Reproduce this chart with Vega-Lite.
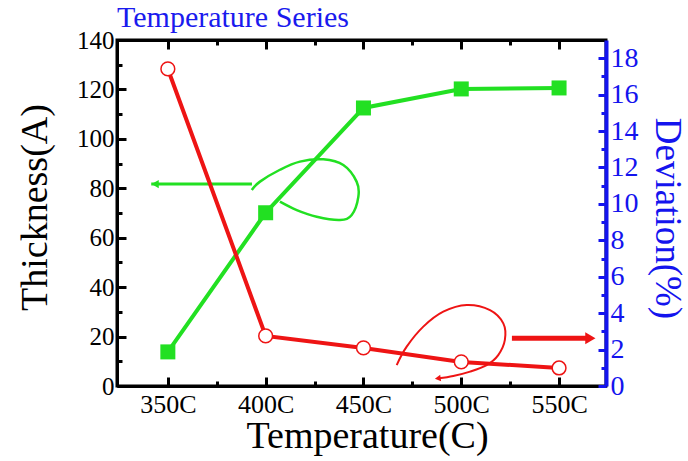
{
  "$schema": "https://vega.github.io/schema/vega-lite/v6.json",
  "width": 489,
  "height": 346,
  "autosize": {"type": "none"},
  "padding": {"left": 117, "top": 40, "right": 82, "bottom": 75},
  "background": "white",
  "title": {"text": "Temperature Series", "anchor": "start", "frame": "group", "color": "#1a1aee", "font": "Liberation Serif", "fontSize": 30, "fontWeight": "normal", "baseline": "bottom", "offset": 3, "dy": 38},
  "config": {
    "view": {"stroke": "black", "strokeWidth": 3},
    "title": {"font": "Liberation Serif"},
    "axis": {"grid": false, "labelFont": "Liberation Serif", "titleFont": "Liberation Serif", "titleFontWeight": "normal", "domainWidth": 3, "tickWidth": 3, "domainColor": "black", "tickColor": "black", "labelColor": "black", "titleColor": "black"}
  },
  "datasets": {
    "thick": [{"T": 350, "v": 13.8}, {"T": 400, "v": 70.1}, {"T": 450, "v": 112.5}, {"T": 500, "v": 120.2}, {"T": 550, "v": 120.6}],
    "dev": [{"T": 350, "v": 17.41}, {"T": 400, "v": 2.75}, {"T": 450, "v": 2.09}, {"T": 500, "v": 1.32}, {"T": 550, "v": 0.99}],
    "greenArrow": [{"T": 341.5, "v": 81.7}, {"T": 393.0, "v": 81.7}],
    "greenHead": [{"T": 343.5, "v": 81.7}],
    "greenLoop": [
      {"i": 0, "T": 392.9, "v": 79.3}, {"i": 1, "T": 397.1, "v": 82.7}, {"i": 2, "T": 407.3, "v": 87.5}, {"i": 3, "T": 417.5, "v": 90.8},
      {"i": 4, "T": 429.5, "v": 91.7}, {"i": 5, "T": 439.7, "v": 89.4}, {"i": 6, "T": 446.5, "v": 82.7}, {"i": 7, "T": 447.4, "v": 76.6},
      {"i": 8, "T": 444.0, "v": 69.2}, {"i": 9, "T": 438.0, "v": 67.2}, {"i": 10, "T": 426.1, "v": 68.5}, {"i": 11, "T": 415.9, "v": 71.2},
      {"i": 12, "T": 407.3, "v": 74.6}
    ],
    "redLoop": [
      {"i": 0, "T": 467.0, "v": 1.15}, {"i": 1, "T": 472.1, "v": 2.16}, {"i": 2, "T": 480.6, "v": 3.26}, {"i": 3, "T": 490.8, "v": 4.08},
      {"i": 4, "T": 502.8, "v": 4.45}, {"i": 5, "T": 514.7, "v": 4.17}, {"i": 6, "T": 521.5, "v": 3.44}, {"i": 7, "T": 522.3, "v": 2.53},
      {"i": 8, "T": 518.9, "v": 1.70}, {"i": 9, "T": 513.0, "v": 1.15}, {"i": 10, "T": 504.5, "v": 0.79}, {"i": 11, "T": 495.9, "v": 0.55},
      {"i": 12, "T": 488.5, "v": 0.42}
    ],
    "redArrow": [{"T": 525.9, "v": 2.62}, {"T": 564.0, "v": 2.62}],
    "redHead": [{"T": 566.0, "v": 2.62}],
    "redLoopHead": [{"T": 488.0, "v": 0.42}]
  },
  "resolve": {"scale": {"y": "independent"}},
  "layer": [
    {
      "encoding": {
        "x": {"field": "T", "type": "quantitative", "scale": {"domain": [324, 574], "nice": false, "zero": false},
          "axis": {"orient": "bottom", "values": [350, 375, 400, 425, 450, 475, 500, 525, 550],
            "labelExpr": "datum.value % 50 === 0 ? datum.value + 'C' : ''",
            "tickSize": {"condition": {"test": "datum.value % 50 === 0", "value": -9}, "value": -5},
            "labelFontSize": 26, "labelPadding": 14, "labelBaseline": "top",
            "title": "Temperature(C)", "titleFontSize": 38, "titleX": 250, "titleY": 61, "titleBaseline": "alphabetic", "titleAlign": "center"}},
        "y": {"field": "v", "type": "quantitative", "scale": {"domain": [0, 140], "nice": false},
          "axis": {"orient": "left", "values": [0, 10, 20, 30, 40, 50, 60, 70, 80, 90, 100, 110, 120, 130, 140],
            "labelExpr": "datum.value % 20 === 0 ? datum.label : ''",
            "tickSize": {"condition": {"test": "datum.value % 20 === 0", "value": -9}, "value": -5},
            "labelFontSize": 25, "labelPadding": 12,
            "title": "Thickness(A)", "titleFontSize": 38, "titleAngle": -90, "titleX": -82, "titleY": 167, "titleAlign": "center", "titleBaseline": "middle"}}
      },
      "layer": [
        {"data": {"name": "thick"}, "mark": {"type": "line", "color": "#22e022", "strokeWidth": 4}},
        {"data": {"name": "thick"}, "mark": {"type": "point", "shape": "square", "filled": true, "color": "#22e022", "size": 225, "opacity": 1}},
        {"data": {"name": "greenArrow"}, "mark": {"type": "line", "color": "#22e022", "strokeWidth": 3}},
        {"data": {"name": "greenHead"}, "mark": {"type": "point", "shape": "triangle-left", "filled": true, "color": "#22e022", "size": 70, "opacity": 1}},
        {"data": {"name": "greenLoop"}, "mark": {"type": "line", "color": "#22e022", "strokeWidth": 2.5, "interpolate": "cardinal"},
          "encoding": {"order": {"field": "i", "type": "quantitative"}}}
      ]
    },
    {
      "encoding": {
        "x": {"field": "T", "type": "quantitative", "scale": {"domain": [324, 574], "nice": false, "zero": false},
          "axis": {"orient": "top", "values": [350, 375, 400, 425, 450, 475, 500, 525, 550], "labels": false, "title": null,
            "tickSize": {"condition": {"test": "datum.value % 50 === 0", "value": -9}, "value": -5}}},
        "y": {"field": "v", "type": "quantitative", "scale": {"domain": [0, 19], "nice": false},
          "axis": {"orient": "right", "values": [0, 1, 2, 3, 4, 5, 6, 7, 8, 9, 10, 11, 12, 13, 14, 15, 16, 17, 18],
            "labelExpr": "datum.value % 2 === 0 ? datum.label : ''",
            "tickSize": {"condition": {"test": "datum.value % 2 === 0", "value": -8}, "value": -5},
            "domainColor": "#1414ee", "domainWidth": 4, "tickColor": "#1414ee", "labelColor": "#1414ee", "titleColor": "#1414ee",
            "labelFontSize": 28, "labelPadding": 12,
            "title": "Deviation(%)", "titleFontSize": 37, "titleAngle": 90, "titleX": 60, "titleY": 178, "titleAlign": "center", "titleBaseline": "middle"}}
      },
      "layer": [
        {"data": {"name": "dev"}, "mark": {"type": "line", "color": "#ee1414", "strokeWidth": 4}},
        {"data": {"name": "dev"}, "mark": {"type": "point", "shape": "circle", "filled": true, "fill": "white", "stroke": "#ee1414", "strokeWidth": 1.5, "size": 190, "opacity": 1}},
        {"data": {"name": "redLoop"}, "mark": {"type": "line", "color": "#ee1414", "strokeWidth": 2, "interpolate": "cardinal"},
          "encoding": {"order": {"field": "i", "type": "quantitative"}}},
        {"data": {"name": "redLoopHead"}, "mark": {"type": "point", "shape": "triangle-left", "filled": true, "color": "#ee1414", "size": 45, "angle": -8, "opacity": 1}},
        {"data": {"name": "redArrow"}, "mark": {"type": "line", "color": "#ee1414", "strokeWidth": 5}},
        {"data": {"name": "redHead"}, "mark": {"type": "point", "shape": "triangle-right", "filled": true, "color": "#ee1414", "size": 140, "opacity": 1}}
      ]
    }
  ]
}
